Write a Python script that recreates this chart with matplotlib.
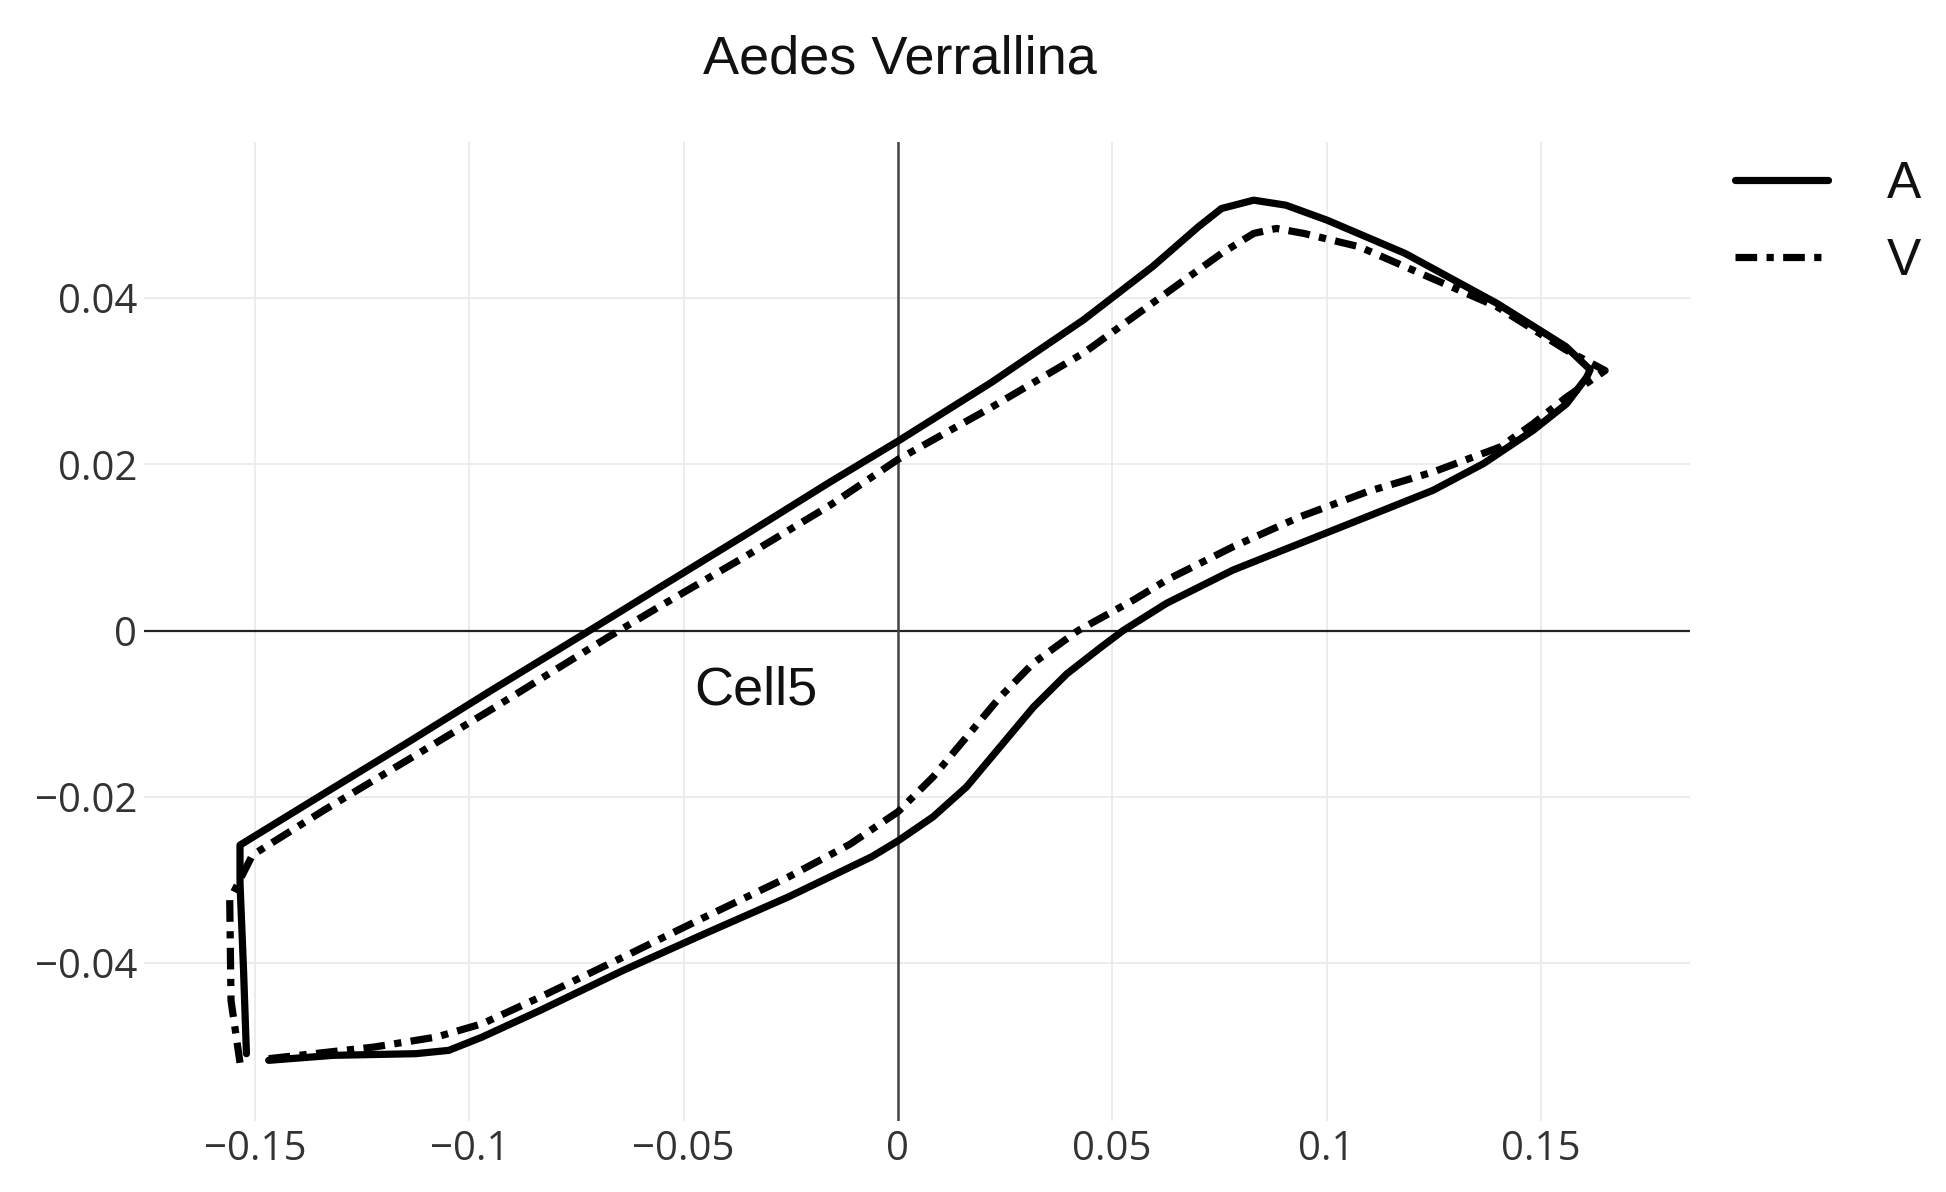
import matplotlib
matplotlib.use("Agg")
import matplotlib.pyplot as plt

# ---- data ----
a_x = [-0.1468, -0.1318, -0.1125, -0.1048, -0.0970, -0.0835, -0.0642, -0.0448,
       -0.0254, -0.0061, 0.0, 0.0082, 0.016, 0.0238, 0.0316, 0.0394, 0.0471,
       0.0525, 0.0627, 0.0782, 0.0938, 0.1094, 0.1249, 0.1366, 0.1482, 0.1560,
       0.1607, 0.1615,
       0.1558, 0.1397, 0.1183, 0.1001, 0.0905, 0.0830, 0.0755, 0.0701, 0.0594,
       0.0433, 0.0219, 0.0, -0.0161, -0.0357, -0.0553, -0.0720, -0.0946,
       -0.1142, -0.1339, -0.1535,
       -0.1535, -0.1527, -0.1520]
a_y = [-0.0517, -0.0511, -0.0509, -0.0505, -0.0489, -0.0457, -0.0409, -0.0364,
       -0.0320, -0.0272, -0.0253, -0.0224, -0.0188, -0.0140, -0.0092, -0.0052,
       -0.0021, 0.0, 0.0033, 0.0073, 0.0105, 0.0137, 0.0169, 0.0201, 0.0241,
       0.0273, 0.0305, 0.0314,
       0.0342, 0.0394, 0.0454, 0.0494, 0.0512, 0.0518, 0.0508, 0.0486, 0.0438,
       0.0374, 0.0299, 0.0228, 0.0178, 0.0115, 0.0053, 0.0, -0.0071,
       -0.0134, -0.0196, -0.0258,
       -0.0304, -0.0405, -0.0509]

v_x = [-0.1468, -0.1222, -0.1077, -0.0970, -0.0835, -0.0642, -0.0448, -0.0254,
       -0.0112, 0.0, 0.0082, 0.016, 0.0238, 0.0316, 0.0420, 0.0550, 0.0627,
       0.0782, 0.0938, 0.1094, 0.1249, 0.1405, 0.1482, 0.1560, 0.1650,
       0.1558, 0.1397, 0.1290, 0.1183, 0.1076, 0.0947, 0.0883, 0.0830, 0.0755,
       0.0647, 0.0433, 0.0219, 0.0, -0.0161, -0.0357, -0.0553, -0.0680,
       -0.0946, -0.1142, -0.1339, -0.1506,
       -0.1559, -0.1556, -0.1535]
v_y = [-0.0515, -0.0501, -0.0489, -0.0473, -0.0441, -0.0393, -0.0344, -0.0296,
       -0.0257, -0.0218, -0.0176, -0.0128, -0.0080, -0.0039, 0.0, 0.0037, 0.0061,
       0.0101, 0.0137, 0.0167, 0.0191, 0.0221, 0.0249, 0.0281, 0.0313,
       0.0338, 0.0390, 0.0414, 0.0438, 0.0462, 0.0478, 0.0484, 0.0478, 0.0454,
       0.0414, 0.0334, 0.0269, 0.0206, 0.0150, 0.0089, 0.0030, -0.0009,
       -0.0094, -0.0155, -0.0216, -0.0270,
       -0.0324, -0.0445, -0.0520]

series_names = ["A", "V"]
x_ticks = [-0.15, -0.1, -0.05, 0, 0.05, 0.1, 0.15]
x_tick_labels = ["\u22120.15", "\u22120.1", "\u22120.05", "0", "0.05", "0.1", "0.15"]
y_ticks = [-0.04, -0.02, 0, 0.02, 0.04]
y_tick_labels = ["\u22120.04", "\u22120.02", "0", "0.02", "0.04"]
title_text = "Aedes Verrallina"
annotation_text = "Cell5"

# ---- figure ----
W, H = 1946, 1192
fig = plt.figure(figsize=(W / 100, H / 100), dpi=100)
ax = fig.add_axes([144 / W, 1 - 1121 / H, (1690 - 144) / W, (1121 - 142) / H])

ax.set_xlim(-0.1759, 0.1848)
ax.set_ylim(-0.0590, 0.0588)

for s in ax.spines.values():
    s.set_visible(False)

ax.set_xticks(x_ticks)
ax.set_xticklabels(x_tick_labels)
ax.set_yticks(y_ticks)
ax.set_yticklabels(y_tick_labels)
tick_font = ["Open Sans", "DejaVu Sans"]
for lab in ax.get_xticklabels() + ax.get_yticklabels():
    lab.set_family(tick_font)
ax.tick_params(axis="both", length=0, labelsize=29, labelcolor="#333333")
ax.tick_params(axis="x", pad=6)
ax.tick_params(axis="y", pad=5)

ax.grid(True, color="#ebebeb", linewidth=1.3, zorder=0)
ax.set_axisbelow(True)
ax.axhline(0, color="#222222", linewidth=1.6, zorder=1)
ax.axvline(0, color="#444444", linewidth=1.8, zorder=1)

lw = 5.2
ax.plot(a_x, a_y, color="black", linewidth=lw, solid_joinstyle="round",
        solid_capstyle="round", label=series_names[0], zorder=3)
ax.plot(v_x, v_y, color="black", linewidth=lw, linestyle=(0, (3.0, 1.3, 1.0, 1.3)),
        dash_joinstyle="round", label=series_names[1], zorder=3)

ax.text(-0.0332, -0.0072, annotation_text, fontsize=39, family="Liberation Sans",
        color="#111111", ha="center", va="center")

fig.text(899.5 / W, 1 - 59 / H, title_text, fontsize=39, family="Liberation Sans",
         color="#111111", ha="center", va="center")

leg = ax.legend(loc="upper left", bbox_to_anchor=(1735 / W, 1 - 160 / H),
                bbox_transform=fig.transFigure, frameon=False, borderpad=0,
                borderaxespad=0, handlelength=1.8, handletextpad=1.15,
                labelspacing=0.55, prop={"family": "Liberation Sans", "size": 37})
for t in leg.get_texts():
    t.set_color("#111111")

fig.savefig("out.png", dpi=100, facecolor="white")
